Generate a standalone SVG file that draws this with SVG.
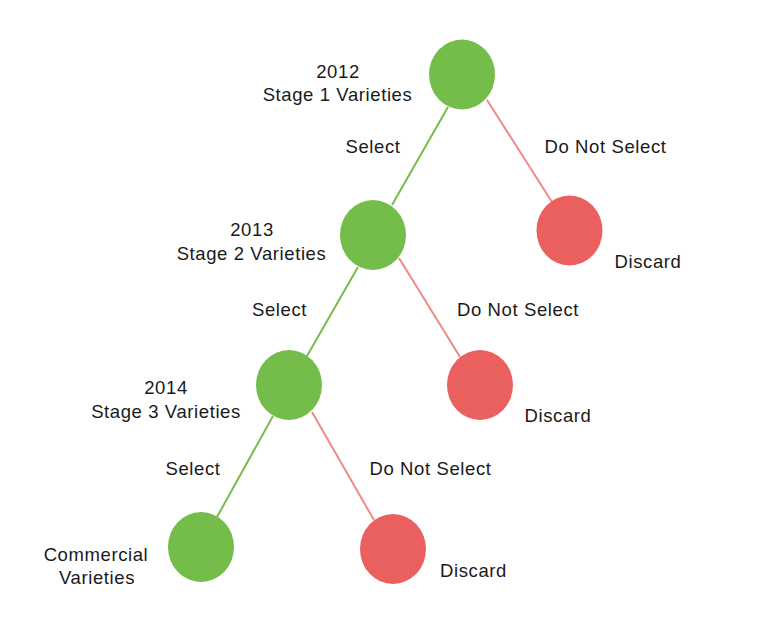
<svg xmlns="http://www.w3.org/2000/svg" width="776" height="620" viewBox="0 0 776 620">
<style>
text{font-family:"Liberation Sans",Arial,sans-serif;font-size:18.5px;letter-spacing:0.6px;fill:#1a1a1a;text-anchor:middle}
.g{fill:#75bd4a}
.r{fill:#ea605e}
.lg{stroke:#76bd4a;stroke-width:2;fill:none}
.lr{stroke:#f08a88;stroke-width:2;fill:none}
</style>
<rect width="776" height="620" fill="#fff"/>
<g id="connectors">
<line class="lg" x1="448" y1="107" x2="392" y2="205"/>
<line class="lr" x1="487" y1="100" x2="552" y2="202"/>
<line class="lg" x1="358" y1="267" x2="307" y2="356"/>
<line class="lr" x1="399" y1="258" x2="460" y2="357"/>
<line class="lg" x1="273" y1="416" x2="217" y2="517"/>
<line class="lr" x1="312" y1="412" x2="374" y2="520"/>
<text x="373" y="153">Select</text>
<text x="605.5" y="153">Do Not Select</text>
<text x="279.5" y="316">Select</text>
<text x="518" y="316">Do Not Select</text>
<text x="193" y="475">Select</text>
<text x="430.5" y="475">Do Not Select</text>
</g>
<g id="stage1">
<ellipse class="g" cx="462" cy="74.5" rx="33" ry="35"/>
<text x="338" y="78">2012</text>
<text x="337.5" y="101">Stage 1 Varieties</text>
</g>
<g id="discard1">
<ellipse class="r" cx="569.5" cy="230.5" rx="33" ry="35"/>
<text x="648" y="268">Discard</text>
</g>
<g id="stage2">
<ellipse class="g" cx="373" cy="235" rx="33" ry="35"/>
<text x="252" y="236">2013</text>
<text x="251.5" y="260">Stage 2 Varieties</text>
</g>
<g id="discard2">
<ellipse class="r" cx="480" cy="385" rx="33" ry="35"/>
<text x="558" y="422">Discard</text>
</g>
<g id="stage3">
<ellipse class="g" cx="289" cy="385" rx="33" ry="35"/>
<text x="166" y="394">2014</text>
<text x="166" y="418">Stage 3 Varieties</text>
</g>
<g id="commercial">
<ellipse class="g" cx="201" cy="547" rx="33" ry="35"/>
<text x="96" y="561">Commercial</text>
<text x="97" y="584">Varieties</text>
</g>
<g id="discard3">
<ellipse class="r" cx="393" cy="549" rx="33" ry="35"/>
<text x="473.5" y="577">Discard</text>
</g>
</svg>
